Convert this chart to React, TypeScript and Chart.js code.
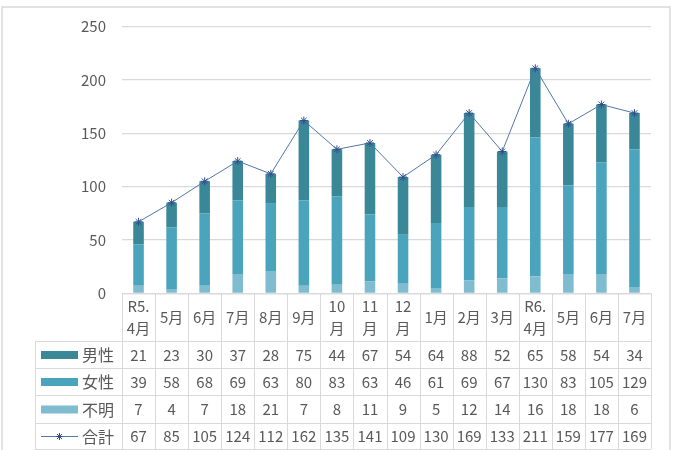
import React, { useEffect, useRef } from "react";
import { Chart, registerables } from "chart.js";

Chart.register(...registerables);

const categories: (string | string[])[] = [
  ["R5.", "4月"], "5月", "6月", "7月", "8月", "9月", ["10", "月"], ["11", "月"], ["12", "月"],
  "1月", "2月", "3月", ["R6.", "4月"], "5月", "6月", "7月",
];
const male = [21, 23, 30, 37, 28, 75, 44, 67, 54, 64, 88, 52, 65, 58, 54, 34];
const female = [39, 58, 68, 69, 63, 80, 83, 63, 46, 61, 69, 67, 130, 83, 105, 129];
const unknown = [7, 4, 7, 18, 21, 7, 8, 11, 9, 5, 12, 14, 16, 18, 18, 6];
const total = [67, 85, 105, 124, 112, 162, 135, 141, 109, 130, 169, 133, 211, 159, 177, 169];
const yTicks = [0, 50, 100, 150, 200, 250];

const C_MALE = "#3A8798";
const C_FEMALE = "#4AA4BC";
const C_UNKNOWN = "#7FBCD0";
const C_LINE = "#5276A8";
const C_MARK = "#2F4F8A";
const GRID = "#D9D9D9";
const TEXT = "#595959";
const FONT = "'Noto Sans CJK JP', 'Noto Sans', sans-serif";

const tablePlugin = {
  id: "dataTable",
  beforeDraw(chart: any) {
    const ctx = chart.ctx;
    ctx.save();
    ctx.strokeStyle = GRID;
    ctx.lineWidth = 1.5;
    ctx.strokeRect(2, 7, 668, 460);
    ctx.restore();
  },
  afterDraw(chart: any) {
    const ctx = chart.ctx;
    const a = chart.chartArea;
    const n = categories.length;
    const cw = a.width / n;
    const rows = [a.bottom, 341, 368, 395, 423, 449];
    const legLeft = 35;
    ctx.save();
    ctx.strokeStyle = GRID;
    ctx.lineWidth = 1;
    ctx.beginPath();
    ctx.moveTo(a.left, rows[0] + 0.5);
    ctx.lineTo(a.right, rows[0] + 0.5);
    for (let r = 1; r < rows.length; r++) {
      ctx.moveTo(legLeft, rows[r] + 0.5);
      ctx.lineTo(a.right, rows[r] + 0.5);
    }
    for (let i = 0; i <= n; i++) {
      const x = Math.round(a.left + i * cw) + 0.5;
      ctx.moveTo(x, rows[0]);
      ctx.lineTo(x, rows[5]);
    }
    ctx.moveTo(legLeft + 0.5, rows[1]);
    ctx.lineTo(legLeft + 0.5, rows[5]);
    ctx.stroke();

    ctx.fillStyle = TEXT;
    ctx.font = `15px ${FONT}`;
    ctx.textAlign = "center";
    ctx.textBaseline = "middle";
    const hMid = (rows[0] + rows[1]) / 2;
    categories.forEach((c, i) => {
      const x = chart.scales.x.getPixelForValue(i);
      if (Array.isArray(c)) {
        ctx.fillText(c[0], x, hMid - 11);
        ctx.fillText(c[1], x, hMid + 11);
      } else {
        ctx.fillText(c, x, hMid);
      }
    });
    const series = [
      { name: "男性", vals: male, color: C_MALE, line: false },
      { name: "女性", vals: female, color: C_FEMALE, line: false },
      { name: "不明", vals: unknown, color: C_UNKNOWN, line: false },
      { name: "合計", vals: total, color: C_LINE, line: true },
    ];
    series.forEach((s, r) => {
      const mid = (rows[r + 1] + rows[r + 2]) / 2 + 0.5;
      ctx.textAlign = "center";
      ctx.fillStyle = TEXT;
      s.vals.forEach((v, i) => {
        ctx.fillText(String(v), chart.scales.x.getPixelForValue(i), mid);
      });
      if (s.line) {
        ctx.strokeStyle = C_LINE;
        ctx.lineWidth = 1;
        ctx.beginPath();
        ctx.moveTo(41, mid);
        ctx.lineTo(78, mid);
        ctx.stroke();
        ctx.strokeStyle = C_MARK;
        const cx = 59.5, rr = 3.5;
        ctx.beginPath();
        for (let k = 0; k < 4; k++) {
          const ang = (k * Math.PI) / 4;
          ctx.moveTo(cx + Math.cos(ang) * rr, mid + Math.sin(ang) * rr);
          ctx.lineTo(cx - Math.cos(ang) * rr, mid - Math.sin(ang) * rr);
        }
        ctx.stroke();
      } else {
        ctx.fillStyle = s.color;
        ctx.fillRect(41, mid - 4, 37, 8);
      }
      ctx.fillStyle = TEXT;
      ctx.textAlign = "left";
      ctx.font = `16px ${FONT}`;
      ctx.fillText(s.name, 82, mid);
      ctx.font = `15px ${FONT}`;
    });
    ctx.restore();
  },
};

export default function App() {
  const ref = useRef<HTMLCanvasElement>(null);
  useEffect(() => {
    if (!ref.current) return;
    const chart = new Chart(ref.current, {
      type: "bar",
      data: {
        labels: categories.map((c) => (Array.isArray(c) ? c.join("") : c)),
        datasets: [
          {
            type: "line",
            label: "合計",
            data: total,
            stack: "total",
            order: 0,
            borderColor: C_LINE,
            borderWidth: 1,
            pointStyle: "star",
            pointRadius: 4,
            pointBorderColor: C_MARK,
            pointBorderWidth: 1,
            pointBackgroundColor: C_MARK,
            fill: false,
            tension: 0,
          } as any,
          { type: "bar", label: "不明", data: unknown, backgroundColor: C_UNKNOWN, stack: "s", order: 1 },
          { type: "bar", label: "女性", data: female, backgroundColor: C_FEMALE, stack: "s", order: 1 },
          { type: "bar", label: "男性", data: male, backgroundColor: C_MALE, stack: "s", order: 1 },
        ],
      },
      options: {
        animation: false,
        responsive: false,
        devicePixelRatio: 1,
        layout: { padding: { top: 26.7, right: 22, bottom: 156.7, left: 0 } },
        plugins: { legend: { display: false }, tooltip: { enabled: false }, title: { display: false } },
        datasets: { bar: { categoryPercentage: 1, barPercentage: 0.32 } },
        scales: {
          x: { stacked: true, display: false, offset: true },
          y: {
            stacked: true,
            min: 0,
            max: 250,
            afterBuildTicks: (s: any) => { s.ticks = yTicks.map((v) => ({ value: v })); },
            afterFit: (s: any) => { s.width = 122; },
            grid: { color: GRID, drawTicks: false, lineWidth: 1.3 },
            border: { display: false },
            ticks: { color: TEXT, padding: 16, font: { size: 15, family: FONT } },
          },
        },
      },
      plugins: [tablePlugin],
    });
    return () => chart.destroy();
  }, []);
  return (
    <div style={{ position: "absolute", left: 0, top: 0, width: 673, height: 450, background: "#fff" }}>
      <canvas ref={ref} width={673} height={450} style={{ width: 673, height: 450 }} />
    </div>
  );
}
